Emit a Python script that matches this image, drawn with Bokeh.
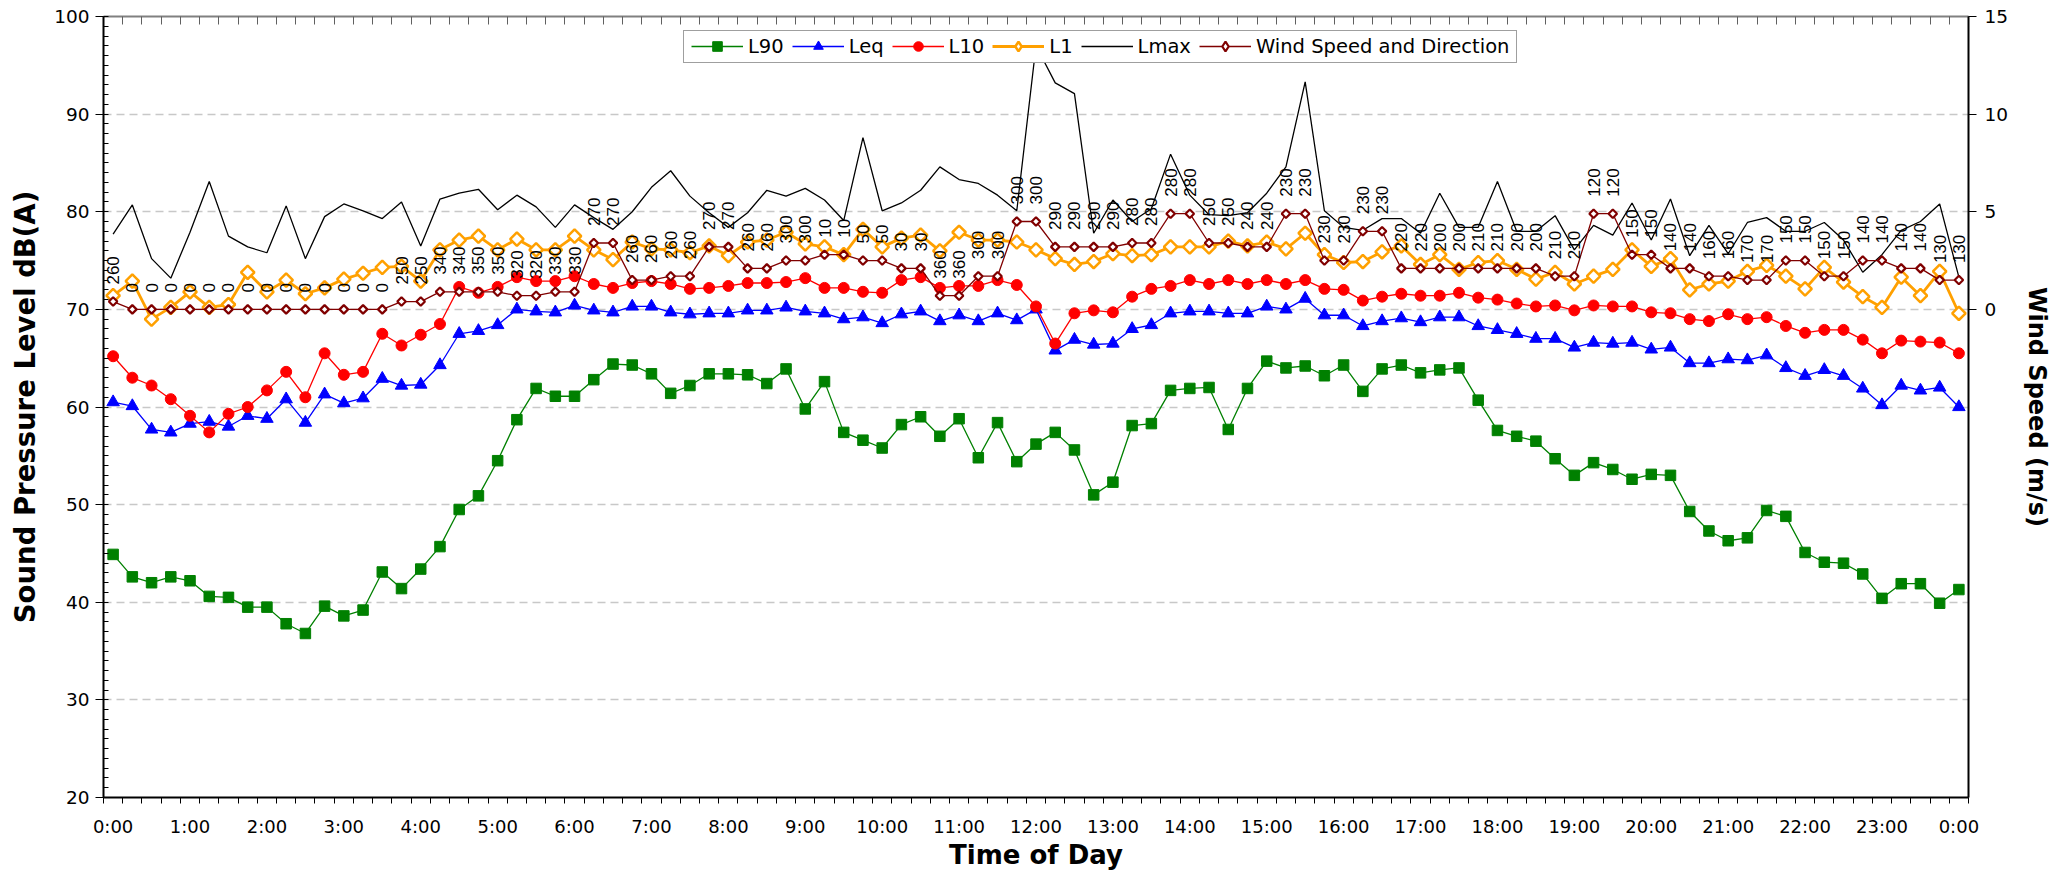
import numpy as np
from bokeh.plotting import figure
from bokeh.models import (Range1d, LinearAxis, FixedTicker, ColumnDataSource,
                          LabelSet, Legend, LegendItem)
from bokeh.core.properties import value
from bokeh.embed import file_html
from bokeh.resources import INLINE

# ---------------- data (15-minute intervals, 0:00 .. 24:00) ----------------
L90 = [44.9, 42.6, 42.0, 42.6, 42.2, 40.6, 40.5, 39.5, 39.5, 37.8, 36.8, 39.6, 38.6, 39.2, 43.1, 41.4,
       43.4, 45.7, 49.5, 50.9, 54.5, 58.7, 61.9, 61.1, 61.1, 62.8, 64.4, 64.3, 63.4, 61.4, 62.2, 63.4,
       63.4, 63.3, 62.4, 63.9, 59.8, 62.6, 57.4, 56.6, 55.8, 58.2, 59.0, 57.0, 58.8, 54.8, 58.4, 54.4,
       56.2, 57.4, 55.6, 51.0, 52.3, 58.1, 58.3, 61.7, 61.9, 62.0, 57.7, 61.9, 64.7, 64.0, 64.2, 63.2,
       64.3, 61.6, 63.9, 64.3, 63.5, 63.8, 64.0, 60.7, 57.6, 57.0, 56.5, 54.7, 53.0, 54.3, 53.6, 52.6,
       53.1, 53.0, 49.3, 47.3, 46.3, 46.6, 49.4, 48.8, 45.1, 44.1, 44.0, 42.9, 40.4, 41.9, 41.9, 39.9,
       41.3]
Leq = [60.5, 60.1, 57.7, 57.4, 58.3, 58.5, 58.0, 59.1, 58.8, 60.8, 58.4, 61.3, 60.4, 60.9, 62.9, 62.2,
       62.3, 64.3, 67.5, 67.8, 68.4, 70.0, 69.8, 69.7, 70.4, 69.9, 69.7, 70.3, 70.3, 69.7, 69.5, 69.6,
       69.6, 69.9, 69.9, 70.2, 69.8, 69.6, 69.0, 69.2, 68.6, 69.5, 69.8, 68.8, 69.4, 68.8, 69.6, 68.9,
       70.0, 65.8, 66.9, 66.4, 66.5, 68.0, 68.4, 69.6, 69.8, 69.8, 69.6, 69.6, 70.3, 70.0, 71.1, 69.4,
       69.4, 68.3, 68.8, 69.1, 68.7, 69.2, 69.2, 68.3, 67.9, 67.5, 67.0, 67.0, 66.1, 66.6, 66.5, 66.6,
       65.9, 66.1, 64.5, 64.5, 64.9, 64.8, 65.3, 64.0, 63.2, 63.8, 63.2, 61.9, 60.2, 62.2, 61.7, 62.0,
       60.0]
L10 = [65.2, 63.0, 62.2, 60.8, 59.1, 57.4, 59.3, 60.0, 61.7, 63.6, 61.0, 65.5, 63.3, 63.6, 67.5, 66.3,
       67.4, 68.5, 72.3, 71.7, 72.3, 73.3, 72.9, 72.9, 73.4, 72.6, 72.2, 72.7, 72.9, 72.6, 72.1, 72.2,
       72.4, 72.7, 72.7, 72.8, 73.2, 72.2, 72.2, 71.8, 71.7, 73.0, 73.3, 72.2, 72.4, 72.4, 73.0, 72.5,
       70.3, 66.5, 69.6, 69.9, 69.7, 71.3, 72.1, 72.4, 73.0, 72.6, 73.0, 72.6, 73.0, 72.6, 73.0, 72.1,
       72.0, 70.9, 71.3, 71.6, 71.4, 71.4, 71.7, 71.2, 71.0, 70.6, 70.3, 70.4, 69.9, 70.4, 70.3, 70.3,
       69.7, 69.6, 69.0, 68.8, 69.5, 69.0, 69.2, 68.3, 67.6, 67.9, 67.9, 66.9, 65.5, 66.8, 66.7, 66.6,
       65.5]
L1 = [71.4, 72.9, 69.0, 70.2, 71.8, 70.2, 70.5, 73.8, 71.8, 73.0, 71.6, 72.2, 73.1, 73.7, 74.3, 74.4,
      72.9, 76.1, 77.1, 77.5, 76.1, 77.2, 76.1, 76.1, 77.5, 76.1, 75.1, 76.9, 76.2, 76.1, 75.8, 76.5,
      75.5, 76.9, 77.1, 77.9, 76.7, 76.4, 75.6, 78.2, 76.4, 77.3, 77.6, 76.0, 77.9, 77.1, 77.1, 76.9,
      76.1, 75.2, 74.6, 74.9, 75.7, 75.5, 75.6, 76.4, 76.4, 76.4, 77.0, 76.5, 76.9, 76.2, 77.8, 75.6,
      74.8, 74.9, 75.9, 76.5, 74.6, 75.6, 74.1, 74.8, 75.0, 74.1, 73.1, 73.8, 72.6, 73.4, 74.1, 76.1,
      74.4, 75.2, 72.0, 72.6, 72.9, 73.9, 74.5, 73.4, 72.1, 74.3, 72.8, 71.3, 70.2, 73.3, 71.4, 73.9,
      69.6]
Lmax = [77.7, 80.7, 75.2, 73.2, 77.9, 83.1, 77.5, 76.4, 75.8, 80.6, 75.2, 79.5, 80.8, 80.1, 79.3, 81.0,
        76.5, 81.3, 81.9, 82.3, 80.2, 81.7, 80.5, 78.4, 80.7, 79.4, 78.2, 80.0, 82.5, 84.2, 81.6, 79.9,
        78.4, 79.9, 82.2, 81.6, 82.4, 81.2, 79.1, 87.6, 80.1, 80.9, 82.2, 84.6, 83.3, 82.9, 81.7, 80.1,
        97.0, 93.2, 92.1, 77.8, 81.2, 79.0, 80.3, 85.9, 81.7, 79.7, 79.6, 79.9, 81.9, 84.6, 93.3, 80.1,
        78.4, 78.1, 79.3, 79.3, 77.8, 81.9, 78.4, 78.4, 83.1, 78.0, 78.0, 79.6, 76.1, 78.6, 77.6, 80.9,
        77.1, 81.3, 75.5, 78.6, 75.7, 78.9, 79.4, 78.0, 78.0, 78.9, 77.1, 73.8, 75.6, 78.1, 79.0, 80.8,
        73.3]
wind_speed = [0.4, 0, 0, 0, 0, 0, 0, 0, 0, 0, 0, 0, 0, 0, 0, 0.4,
              0.4, 0.9, 0.9, 0.9, 0.9, 0.7, 0.7, 0.9, 0.9, 3.4, 3.4, 1.5, 1.5, 1.7, 1.7, 3.2,
              3.2, 2.1, 2.1, 2.5, 2.5, 2.8, 2.8, 2.5, 2.5, 2.1, 2.1, 0.7, 0.7, 1.7, 1.7, 4.5,
              4.5, 3.2, 3.2, 3.2, 3.2, 3.4, 3.4, 4.9, 4.9, 3.4, 3.4, 3.2, 3.2, 4.9, 4.9, 2.5,
              2.5, 4.0, 4.0, 2.1, 2.1, 2.1, 2.1, 2.1, 2.1, 2.1, 2.1, 1.7, 1.7, 4.9, 4.9, 2.8,
              2.8, 2.1, 2.1, 1.7, 1.7, 1.5, 1.5, 2.5, 2.5, 1.7, 1.7, 2.5, 2.5, 2.1, 2.1, 1.5,
              1.5]
wind_dir = ["260", "0", "0", "0", "0", "0", "0", "0", "0", "0", "0", "0", "0", "0", "0", "250",
            "250", "340", "340", "350", "350", "320", "320", "330", "330", "270", "270", "260", "260", "260", "260", "270",
            "270", "260", "260", "300", "300", "10", "10", "50", "50", "30", "30", "360", "360", "300", "300", "300",
            "300", "290", "290", "290", "290", "280", "280", "280", "280", "250", "250", "240", "240", "230", "230", "230",
            "230", "230", "230", "220", "220", "200", "200", "210", "210", "200", "200", "210", "210", "120", "120", "150",
            "150", "140", "140", "160", "160", "170", "170", "150", "150", "150", "150", "140", "140", "140", "140", "130",
            "130"]
x_tick_pos = list(range(0, 97, 4))
x_tick_labels = ["%d:00" % ((i // 4) % 24) for i in x_tick_pos]

x = list(range(len(L90)))
boundaries = [i - 0.5 for i in range(len(x) + 1)]

# ---------------- figure ----------------
p = figure(width=2063, height=872, output_backend="svg", toolbar_location=None,
           x_range=Range1d(-0.5, len(x) - 0.5), y_range=Range1d(20, 100),
           min_border_left=103, min_border_right=95, min_border_top=16, min_border_bottom=75)
p.extra_y_ranges = {"wind": Range1d(-25, 15)}
p.background_fill_color = "white"
p.border_fill_color = "white"
p.outline_line_color = "#808080"
p.outline_line_width = 1

TICK_FONT = "DejaVu Sans"

# x axis
xa = p.xaxis[0]
xa.ticker = FixedTicker(ticks=x_tick_pos, minor_ticks=boundaries)
xa.major_label_overrides = {t: l for t, l in zip(x_tick_pos, x_tick_labels)}
xa.major_tick_out = 0
xa.major_tick_in = 0
xa.minor_tick_out = 6
xa.minor_tick_in = 0
xa.minor_tick_line_color = "black"
xa.axis_line_width = 2
xa.axis_line_color = "black"
xa.major_label_text_font = TICK_FONT
xa.major_label_text_font_size = "18px"
xa.major_label_text_color = "black"
xa.major_label_standoff = 12
xa.axis_label = "Time of Day"
xa.axis_label_text_font = "DejaVu Sans"
xa.axis_label_text_font_style = "bold"
xa.axis_label_text_font_size = "26px"
xa.axis_label_text_color = "black"
xa.axis_label_standoff = 0

# top axis: unlabelled, ticks pointing into the plot
ta = LinearAxis(ticker=FixedTicker(ticks=[], minor_ticks=boundaries))
ta.major_tick_out = 0
ta.major_tick_in = 0
ta.minor_tick_out = 0
ta.minor_tick_in = 8
ta.minor_tick_line_color = "#606060"
ta.axis_line_color = "#808080"
ta.axis_line_width = 2
ta.major_label_standoff = 0
ta.major_label_text_font_size = "0px"
p.add_layout(ta, "above")

# left axis
ya = p.yaxis[0]
ya.ticker = FixedTicker(ticks=list(range(20, 101, 10)), minor_ticks=list(range(20, 101)))
ya.major_tick_out = 8
ya.major_tick_in = 0
ya.minor_tick_out = 0
ya.minor_tick_in = 5
ya.axis_line_width = 2
ya.major_label_text_font = TICK_FONT
ya.major_label_text_font_size = "18.5px"
ya.major_label_text_color = "black"
ya.major_label_standoff = 6
ya.axis_label = "Sound Pressure Level dB(A)"
ya.axis_label_text_font = "DejaVu Sans"
ya.axis_label_text_font_style = "bold"
ya.axis_label_text_font_size = "27.5px"
ya.axis_label_text_color = "black"
ya.axis_label_standoff = 10

# right axis (wind speed)
ra = LinearAxis(y_range_name="wind", ticker=FixedTicker(ticks=[0, 5, 10, 15], minor_ticks=[]))
ra.major_tick_out = 8
ra.major_tick_in = 0
ra.axis_line_width = 2
ra.major_label_text_font = TICK_FONT
ra.major_label_text_font_size = "18.5px"
ra.major_label_text_color = "black"
ra.major_label_standoff = 8
ra.axis_label = "Wind Speed (m/s)"
ra.axis_label_text_font = "DejaVu Sans"
ra.axis_label_text_font_style = "bold"
ra.axis_label_text_font_size = "24px"
ra.axis_label_text_color = "black"
ra.axis_label_standoff = 12
p.add_layout(ra, "right")

# grid
p.xgrid.visible = False
p.ygrid.ticker = FixedTicker(ticks=list(range(30, 100, 10)))
p.ygrid.grid_line_color = "#C8C8C8"
p.ygrid.grid_line_dash = "8 5"
p.ygrid.grid_line_width = 1.5

# ---------------- series ----------------
ORANGE = "#FFA000"
WIND = "#800000"
l90_l = p.line(x, L90, line_color="#008000", line_width=1.3)
l90_s = p.scatter(x, L90, marker="square", size=10.5, fill_color="#008000", line_color="#008000")
leq_l = p.line(x, Leq, line_color="#0000FF", line_width=1.3)
leq_s = p.scatter(x, Leq, marker="triangle", size=12.5, fill_color="#0000FF", line_color="#0000FF")
l10_l = p.line(x, L10, line_color="#FF0000", line_width=1.3)
l10_s = p.scatter(x, L10, marker="circle", size=11, fill_color="#FF0000", line_color="#FF0000")
l1_l = p.line(x, L1, line_color=ORANGE, line_width=2.8)
# diamond glyph used for the legend entry; sits hidden beneath the rotated-square markers
l1_leg = p.scatter(x, L1, marker="diamond", size=8, fill_color="white", line_color=ORANGE, line_width=2.5)
l1_s = p.scatter(x, L1, marker="square", angle=np.pi / 4, size=9.5, fill_color="white",
                 line_color=ORANGE, line_width=2.5)
lmax_l = p.line(x, Lmax, line_color="black", line_width=1.3)
ws_l = p.line(x, wind_speed, line_color=WIND, line_width=1.3, y_range_name="wind")
ws_leg = p.scatter(x, wind_speed, marker="diamond", size=4, fill_color="white", line_color=WIND,
                   line_width=2.2, y_range_name="wind")
ws_s = p.scatter(x, wind_speed, marker="square", angle=np.pi / 4, size=6, fill_color="white",
                 line_color=WIND, line_width=2.2, y_range_name="wind")

wind_src = ColumnDataSource(dict(x=x, ws=wind_speed, d=wind_dir))
labels = LabelSet(x="x", y="ws", text="d", source=wind_src, y_range_name="wind",
                  angle=np.pi / 2, text_align="left", text_baseline="middle",
                  y_offset=17, text_font=value("Liberation Sans"), text_font_size="17px",
                  text_color="black")
p.add_layout(labels)

legend = Legend(items=[
    LegendItem(label="L90", renderers=[l90_l, l90_s]),
    LegendItem(label="Leq", renderers=[leq_l, leq_s]),
    LegendItem(label="L10", renderers=[l10_l, l10_s]),
    LegendItem(label="L1", renderers=[l1_l, l1_leg]),
    LegendItem(label="Lmax", renderers=[lmax_l]),
    LegendItem(label="Wind Speed and Direction", renderers=[ws_l, ws_leg]),
], orientation="horizontal", location=(580, 734))
legend.label_text_font = "DejaVu Sans"
legend.label_text_font_size = "19.5px"
legend.label_text_color = "black"
legend.glyph_width = 52
legend.glyph_height = 24
legend.label_height = 20
legend.label_standoff = 5
legend.spacing = 8
legend.padding = dict(left=7, right=7, top=3, bottom=4)
legend.margin = 0
legend.border_line_color = "#404040"
legend.border_line_width = 1.5
legend.background_fill_color = "white"
legend.background_fill_alpha = 1.0
p.add_layout(legend, "center")

open("out.html", "w").write(file_html(p, INLINE))
